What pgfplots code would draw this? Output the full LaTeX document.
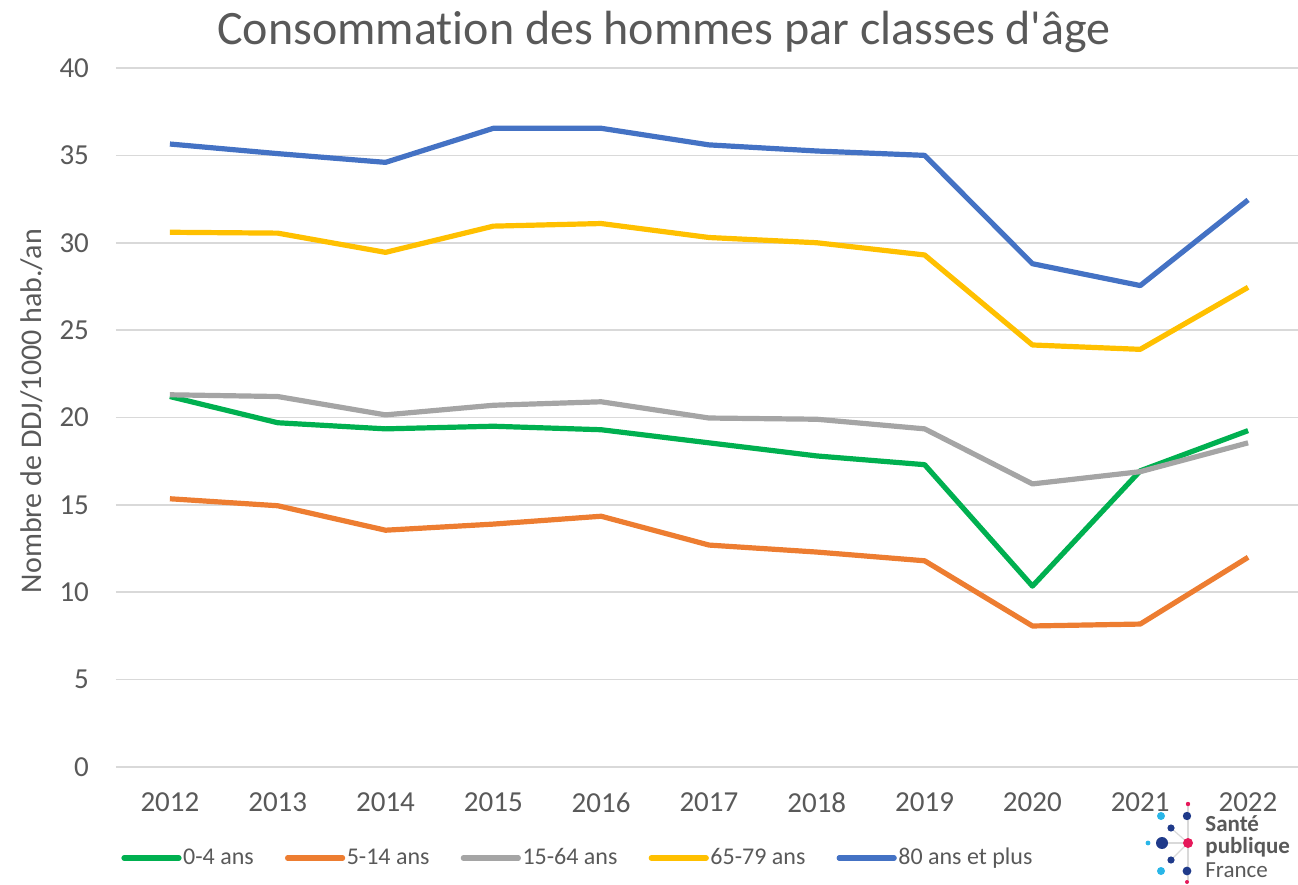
\documentclass[border=0pt]{standalone}
\usepackage{pgfplots}
\pgfplotsset{compat=1.18}
\usepackage{fontspec}
\setmainfont{Carlito}[Ligatures={TeXOff,CommonOff}]
\definecolor{cgreen}{HTML}{00B050}
\definecolor{corange}{HTML}{ED7D31}
\definecolor{cgray}{HTML}{A5A5A5}
\definecolor{cyellow}{HTML}{FFC000}
\definecolor{cblue}{HTML}{4472C4}
\definecolor{ctext}{HTML}{595959}
\definecolor{cgrid}{HTML}{D9D9D9}
\definecolor{lnavy}{HTML}{1F3A8A}
\definecolor{lred}{HTML}{E6195A}
\definecolor{lcyan}{HTML}{29B6E8}
\begin{document}
\begin{tikzpicture}
\useasboundingbox (-58pt,-59pt) rectangle (591pt,383.5pt);
\begin{axis}[
  at={(0,0)}, anchor=origin,
  scale only axis, width=593pt, height=349.5pt,
  xmin=2011.5, xmax=2022.5, ymin=0, ymax=40,
  xtick={2012,...,2022},
  xticklabel style={/pgf/number format/1000 sep={}},
  ytick={0,5,...,40},
  /pgf/number format/assume math mode=true,
  axis line style={draw=none},
  major tick length=0pt,
  ymajorgrids, grid style={cgrid, line width=0.8pt},
  tick label style={font=\fontsize{14.5}{16}\selectfont, text=ctext},
  yticklabel style={anchor=east, xshift=-10pt},
  xticklabel style={yshift=-9.5pt},
  clip=false,
  legend columns=5,
  legend style={draw=none, fill=none, at={(axis description cs:0,0)}, anchor=west,
    xshift=2.5pt, yshift=-45.5pt, font=\fontsize{12}{13}\selectfont, text=ctext,
    inner sep=0pt, nodes={inner sep=0.8pt},
    /tikz/every even column/.append style={column sep=14.8pt}},
  legend image code/.code={\draw[#1, line cap=round] (0pt,0pt) -- (27.5pt,0pt);},
  every axis plot/.append style={line width=2.6pt, line join=round},
]
\addplot[cgreen] coordinates {(2012,21.2) (2013,19.7) (2014,19.35) (2015,19.5) (2016,19.3) (2017,18.55) (2018,17.8) (2019,17.3) (2020,10.35) (2021,16.95) (2022,19.25)};
\addlegendentry{0-4 ans}
\addplot[corange] coordinates {(2012,15.35) (2013,14.95) (2014,13.55) (2015,13.9) (2016,14.35) (2017,12.7) (2018,12.3) (2019,11.8) (2020,8.07) (2021,8.18) (2022,12.0)};
\addlegendentry{5-14 ans}
\addplot[cgray] coordinates {(2012,21.3) (2013,21.2) (2014,20.15) (2015,20.7) (2016,20.9) (2017,19.97) (2018,19.9) (2019,19.35) (2020,16.2) (2021,16.9) (2022,18.55)};
\addlegendentry{15-64 ans}
\addplot[cyellow] coordinates {(2012,30.6) (2013,30.55) (2014,29.45) (2015,30.95) (2016,31.1) (2017,30.3) (2018,30.0) (2019,29.3) (2020,24.15) (2021,23.9) (2022,27.45)};
\addlegendentry{65-79 ans}
\addplot[cblue] coordinates {(2012,35.65) (2013,35.1) (2014,34.6) (2015,36.55) (2016,36.55) (2017,35.6) (2018,35.25) (2019,35.0) (2020,28.8) (2021,27.55) (2022,32.45)};
\addlegendentry{80 ans et plus}
\end{axis}
% title
\node[text=ctext, font=\fontsize{24}{27}\selectfont] at (274pt,367.5pt) {Consommation des hommes par classes d'âge};
% y label
\node[text=ctext, font=\fontsize{15}{16}\selectfont, rotate=90] at (-42pt,178pt) {Nombre de DDJ/1000 hab./an};
% logo
\begin{scope}
\draw[gray!30, line width=0.6pt] (536pt,-18.5pt) -- (536pt,-57.5pt);
\draw[gray!30, line width=0.6pt] (523pt,-38pt) -- (536pt,-38pt);
\draw[gray!30, line width=0.6pt] (527.5pt,-30.5pt) -- (536pt,-38pt) -- (527.5pt,-46.5pt);
\fill[lred] (536pt,-18.5pt) circle (1.1pt);
\fill[lnavy] (535.5pt,-24.5pt) circle (2.1pt);
\fill[lcyan] (522.5pt,-24.5pt) circle (2pt);
\fill[lnavy] (527.5pt,-30.5pt) circle (1.8pt);
\fill[lnavy] (523pt,-38pt) circle (3pt);
\fill[lcyan] (516pt,-38pt) circle (1.2pt);
\fill[lred] (536pt,-38pt) circle (2.5pt);
\fill[lnavy] (527.5pt,-46.5pt) circle (1.8pt);
\fill[lcyan] (522.5pt,-52pt) circle (2pt);
\fill[lnavy] (535.5pt,-52pt) circle (2.2pt);
\fill[lred] (535.5pt,-57.5pt) circle (1pt);
\node[anchor=base west, inner sep=0pt, text=ctext, font=\fontsize{11.5}{12}\selectfont\bfseries] at (544.5pt,-32pt) {Santé};
\node[anchor=base west, inner sep=0pt, text=ctext, font=\fontsize{11.5}{12}\selectfont\bfseries] at (544.5pt,-43pt) {publique};
\node[anchor=base west, inner sep=0pt, text=ctext, font=\fontsize{11.5}{12}\selectfont] at (544.5pt,-55.5pt) {France};
\end{scope}
\end{tikzpicture}
\end{document}
